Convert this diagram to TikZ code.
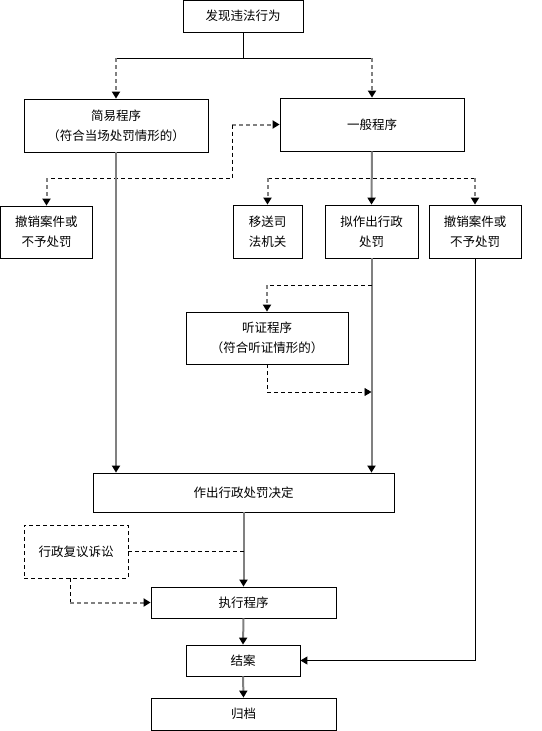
\documentclass[tikz,border=0pt]{standalone}
\usepackage{fontspec}
\setmainfont{Noto Sans CJK SC}
\usetikzlibrary{arrows.meta}
\begin{document}
\begin{tikzpicture}[x=1pt,y=-1pt,
  box/.style={draw=black,line width=0.8pt,inner sep=0pt,align=center,font=\fontsize{12.5pt}{20pt}\selectfont},
  dbox/.style={box,dashed,dash pattern=on 4pt off 3pt},
  tip/.style={-{Triangle[width=8pt,length=7pt,color=black]}},
  gs/.style={draw={rgb,255:red,128;green,128;blue,128},line width=2pt},
  bs/.style={draw=black,line width=0.9pt},
  gd/.style={gs,dash pattern=on 4pt off 3pt},
  bd/.style={bs,dash pattern=on 4pt off 3pt}]
\useasboundingbox (0,0) rectangle (541,731);
\node[box,minimum width=120pt,minimum height=32pt] (top) at (243,16) {发现违法行为};
\node[box,minimum width=184pt,minimum height=53pt] (jianyi) at (116,125.5) {简易程序\\（符合当场处罚情形的）};
\node[box,minimum width=184pt,minimum height=53pt] (yiban) at (372,124.5) {一般程序};
\node[box,minimum width=92pt,minimum height=52pt] (cheL) at (46.5,232) {撤销案件或\\不予处罚};
\node[box,minimum width=69pt,minimum height=53pt] (yisong) at (267.5,231.5) {移送司\\法机关};
\node[box,minimum width=93pt,minimum height=53pt] (nizuo) at (371.5,231.5) {拟作出行政\\处罚};
\node[box,minimum width=92pt,minimum height=53pt] (cheR) at (475,231.5) {撤销案件或\\不予处罚};
\node[box,minimum width=162pt,minimum height=52pt] (ting) at (267,338) {听证程序\\（符合听证情形的）};
\node[box,minimum width=301pt,minimum height=39pt] (zuochu) at (243.5,492.5) {作出行政处罚决定};
\node[dbox,minimum width=104pt,minimum height=53pt] (fuyi) at (76,551.5) {行政复议诉讼};
\node[box,minimum width=185pt,minimum height=31pt] (zhixing) at (243.5,602.5) {执行程序};
\node[box,minimum width=114pt,minimum height=31pt] (jiean) at (243,660.5) {结案};
\node[box,minimum width=185pt,minimum height=32pt] (guidang) at (243.5,714) {归档};
% top split
\coordinate (j1) at (243,58);
\draw[bs] (top.south) -- (j1);
\draw[bs] (jianyi.north |- j1) -- (yiban.north |- j1);
\draw[gd,tip] (jianyi.north |- j1) -- (jianyi.north);
\draw[gd,tip] (yiban.north |- j1) -- (yiban.north);
% left dashed
\coordinate (k1) at (232,124.5);
\coordinate (k2) at (232,178);
\draw[gd,tip] (k1) -- (yiban.west);
\draw[bd] (k1) -- (k2) -- (cheL.north |- k2);
\draw[gd,tip] (cheL.north |- k2) -- (cheL.north);
% right dashed
\coordinate (r1) at (371.5,178);
\draw[bd] (yisong.north |- r1) -- (cheR.north |- r1);
\draw[gd,tip] (yisong.north |- r1) -- (yisong.north);
\draw[gd,tip] (cheR.north |- r1) -- (cheR.north);
\draw[gs,tip] (yiban.south) -- (nizuo.north);
% down lines
\draw[gs,tip] (jianyi.south) -- (jianyi.south |- zuochu.north);
\draw[gs,tip] (nizuo.south) -- (nizuo.south |- zuochu.north);
% hearing
\coordinate (h1) at (371.5,285);
\coordinate (h2) at (267,392);
\draw[bd] (h1) -- (ting.north |- h1);
\draw[gd,tip] (ting.north |- h1) -- (ting.north);
\draw[bd] (ting.south) -- (h2);
\draw[bd,tip] (h2) -- (nizuo.south |- h2);
% right to jiean
\draw[bs,tip] (cheR.south) |- (jiean.east);
% bottom chain
\draw[gs,tip] (zuochu.south) -- (zhixing.north);
\draw[bd] (fuyi.east) -- (zuochu.south |- fuyi.east);
\coordinate (f1) at (70,578);
\coordinate (f2) at (70,602.5);
\draw[bd] (f1) -- (f2);
\draw[gd,tip] (f2) -- (zhixing.west);
\draw[gs,tip] (zhixing.south) -- (jiean.north);
\draw[gs,tip] (jiean.south) -- (guidang.north);
\end{tikzpicture}
\end{document}
